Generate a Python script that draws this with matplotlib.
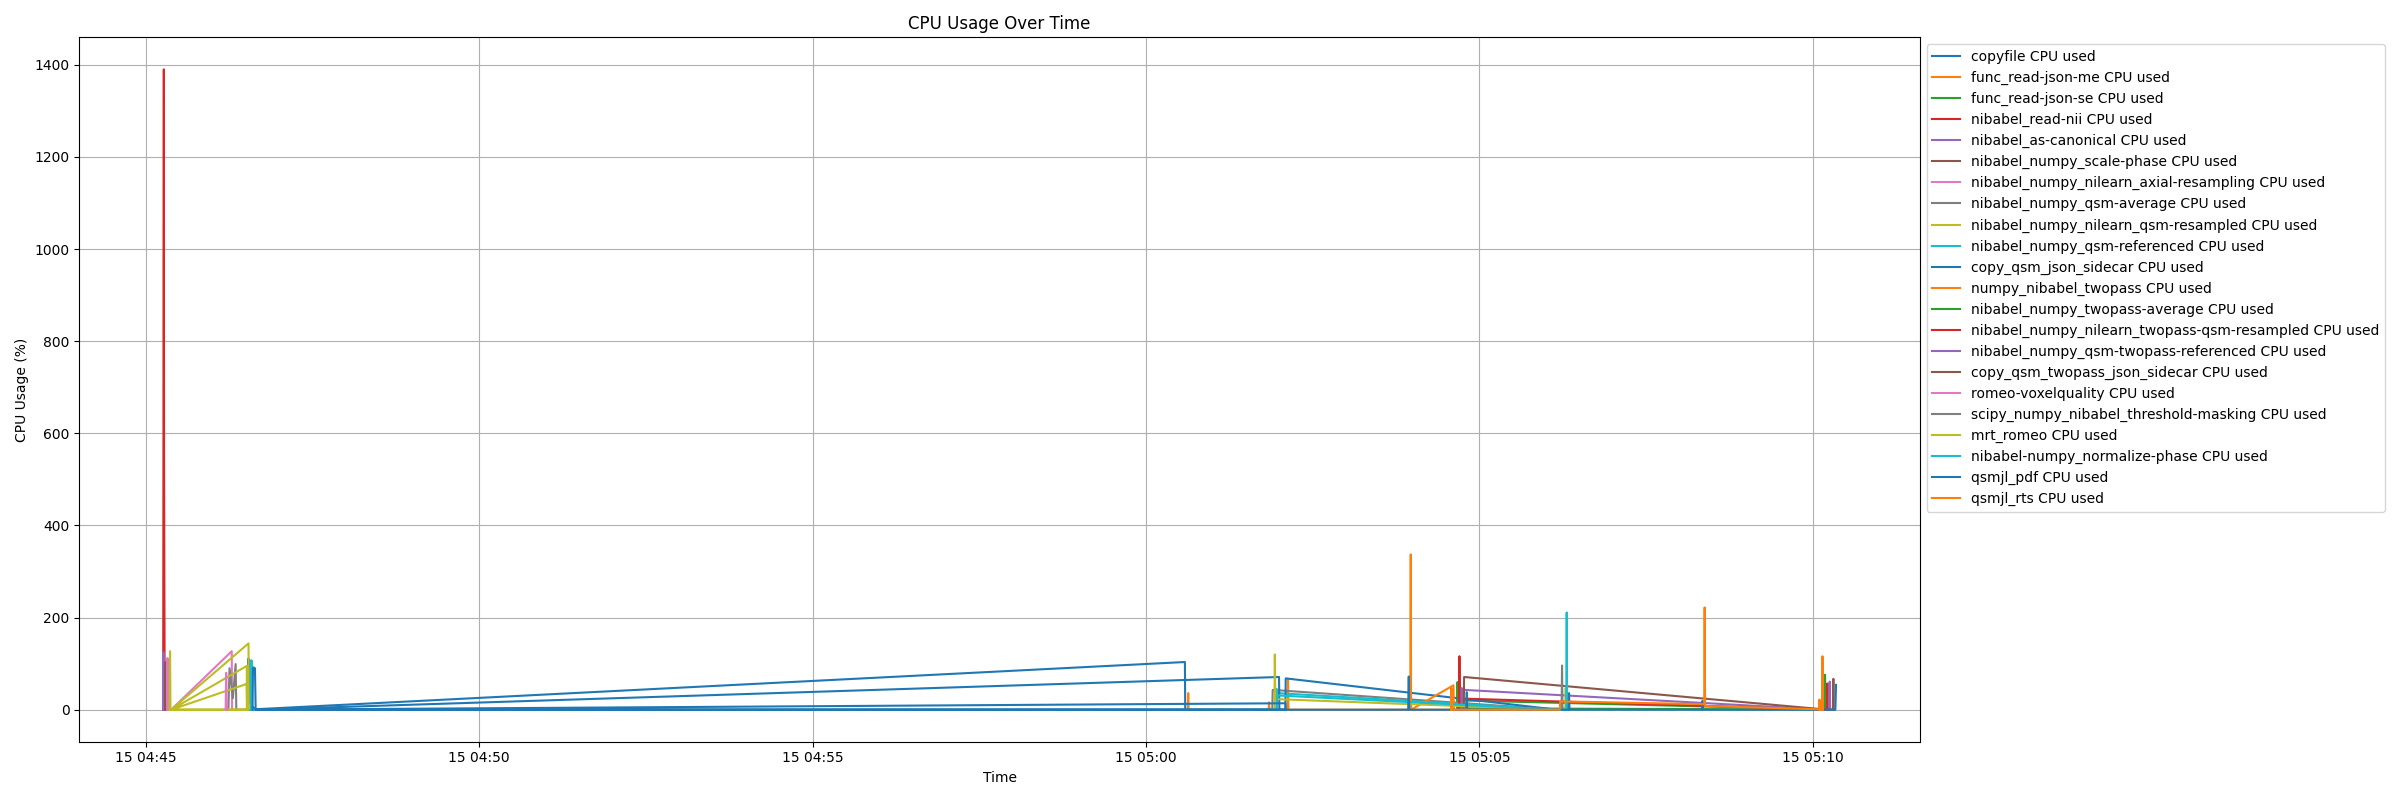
import datetime as dt
import matplotlib
matplotlib.use("Agg")
import matplotlib.pyplot as plt

# Base time (x values below are seconds after this moment)
BASE = dt.datetime(2024, 5, 15, 4, 45, 0)

labels = [
    "copyfile CPU used",
    "func_read-json-me CPU used",
    "func_read-json-se CPU used",
    "nibabel_read-nii CPU used",
    "nibabel_as-canonical CPU used",
    "nibabel_numpy_scale-phase CPU used",
    "nibabel_numpy_nilearn_axial-resampling CPU used",
    "nibabel_numpy_qsm-average CPU used",
    "nibabel_numpy_nilearn_qsm-resampled CPU used",
    "nibabel_numpy_qsm-referenced CPU used",
    "copy_qsm_json_sidecar CPU used",
    "numpy_nibabel_twopass CPU used",
    "nibabel_numpy_twopass-average CPU used",
    "nibabel_numpy_nilearn_twopass-qsm-resampled CPU used",
    "nibabel_numpy_qsm-twopass-referenced CPU used",
    "copy_qsm_twopass_json_sidecar CPU used",
    "romeo-voxelquality CPU used",
    "scipy_numpy_nibabel_threshold-masking CPU used",
    "mrt_romeo CPU used",
    "nibabel-numpy_normalize-phase CPU used",
    "qsmjl_pdf CPU used",
    "qsmjl_rts CPU used",
]

# Sample times (seconds after 04:45:00) and CPU usage (%) per process
copyfile_t = [92.4, 92.6, 93.0, 93.4, 93.8, 94.2, 94.6, 95.0, 95.4, 99.0, 935.0, 935.3]
copyfile_v = [0, 111, 20, 108, 15, 105, 12, 100, 8, 1, 103.5, 0]

json_me_t = [937.6, 938.0, 938.4, 1010.3, 1010.7, 1011.1, 1027.4, 1027.8, 1028.2, 1272.3]
json_me_v = [0, 36, 0, 0, 16, 0, 0, 67, 0, 0]

json_se_t = [1179.8, 1180.2, 1180.6, 1186.2, 1504.0, 1510.5, 1510.9, 1511.3]
json_se_v = [0, 60, 0, 20, 1, 0, 76, 0]

read_nii_t = [15.8, 16.4, 16.6, 17.2]
read_nii_v = [0, 1390, 550, 0]

canonical_t = [15.7, 16.0, 16.3, 16.6]
canonical_v = [0, 125, 60, 0]

scale_phase_t = [17.5, 17.9, 18.3]
scale_phase_v = [0, 103, 0]

axial_t = [19.3, 19.7, 20.1, 23.0, 77.5, 77.8]
axial_v = [0, 112, 0, 0, 127, 0]

qsm_avg_t = [74.5, 75.5, 78.5, 81.0, 81.6, 1013.6, 1014.0, 1270.0]
qsm_avg_v = [0, 90, 25, 99, 0, 0, 43, 0]

qsm_resampled_t = [21.6, 22.0, 22.4, 23.0, 92.6, 92.8, 23.0, 91.0, 91.2, 23.0, 91.0, 91.2]
qsm_resampled_v = [0, 127, 0, 0, 144, 0, 0, 95, 0, 0, 56, 0]

qsm_ref_t = [94.9, 95.3, 95.7, 1017.2, 1017.6, 1018.0, 1270.0]
qsm_ref_v = [0, 107, 0, 0, 45, 36, 0]

copy_sidecar_t = [96.2, 96.6, 97.2, 97.8, 98.4, 99.0, 1019.7, 1020.0, 1025.4, 1025.7, 1270.0]
copy_sidecar_v = [0, 88, 92, 85, 90, 0, 71, 0, 0, 68, 0]

twopass_t = [1137.8, 1138.2, 1138.5, 1176.6, 1177.0]
twopass_v = [0, 337, 0, 53, 0]

twopass_avg_t = [1183.0, 1186.5, 1500.0, 1510.5]
twopass_avg_v = [0, 3, 0.5, 0]

twopass_resampled_t = [1181.6, 1182.0, 1182.4, 1186.4, 1504.0, 1512.6, 1513.0, 1513.4]
twopass_resampled_v = [0, 116, 0, 24, 1, 0, 57, 0]

twopass_ref_t = [1183.7, 1184.1, 1184.5, 1186.4, 1504.0, 1514.7, 1515.1, 1515.5]
twopass_ref_v = [0, 47, 0, 43, 1, 0, 61, 0]

twopass_sidecar_t = [1185.8, 1186.2, 1504.0, 1518.0, 1518.4, 1518.8]
twopass_sidecar_v = [0, 71, 2, 0, 67, 0]

voxelquality_t = [72.0, 72.5, 73.0, 73.5]
voxelquality_v = [0, 80, 10, 0]

masking_t = [1273.9, 1274.3, 1274.7]
masking_v = [0, 96, 0]

mrt_romeo_t = [1015.6, 1015.9, 1016.3, 1270.0, 1277.2, 1277.6, 1278.0]
mrt_romeo_v = [0, 120, 23, 0, 0, 47, 0]

normalize_t = [1017.8, 1018.2, 1270.5, 1278.1, 1278.5, 1278.9]
normalize_v = [0, 31, 0, 0, 211, 0]

pdf_t = [99.2, 1025.5, 1025.8, 99.5, 1135.9, 1136.4, 1136.8, 1188.2, 1188.6, 1189.0,
         1280.2, 1280.6, 1281.0, 1400.2, 1400.6, 1401.0, 1520.2, 1520.8]
pdf_v = [0, 14, 0, 0, 0, 72, 0, 0, 38, 0, 0, 36, 0, 0, 19, 0, 0, 54]

rts_t = [1174.4, 1174.8, 1175.2, 1272.3, 1272.6, 1402.2, 1402.6, 1403.0, 1504.0,
         1505.5, 1505.9, 1506.3, 1508.2, 1508.6, 1509.0]
rts_v = [0, 47, 0, 0, 18, 12, 222, 8, 1, 0, 22, 0, 0, 116, 0]

series_t = [copyfile_t, json_me_t, json_se_t, read_nii_t, canonical_t, scale_phase_t,
            axial_t, qsm_avg_t, qsm_resampled_t, qsm_ref_t, copy_sidecar_t, twopass_t,
            twopass_avg_t, twopass_resampled_t, twopass_ref_t, twopass_sidecar_t,
            voxelquality_t, masking_t, mrt_romeo_t, normalize_t, pdf_t, rts_t]
series_v = [copyfile_v, json_me_v, json_se_v, read_nii_v, canonical_v, scale_phase_v,
            axial_v, qsm_avg_v, qsm_resampled_v, qsm_ref_v, copy_sidecar_v, twopass_v,
            twopass_avg_v, twopass_resampled_v, twopass_ref_v, twopass_sidecar_v,
            voxelquality_v, masking_v, mrt_romeo_v, normalize_v, pdf_v, rts_v]

fig, ax = plt.subplots(figsize=(24, 8), dpi=100)
for lab, ts, vs in zip(labels, series_t, series_v):
    times = [BASE + dt.timedelta(seconds=s) for s in ts]
    ax.plot(times, vs, label=lab)

ax.set_title("CPU Usage Over Time")
ax.set_xlabel("Time")
ax.set_ylabel("CPU Usage (%)")
ax.grid(True)
ax.legend(loc="upper left", bbox_to_anchor=(1, 1))
fig.tight_layout()
fig.savefig("out.png", dpi=100)
